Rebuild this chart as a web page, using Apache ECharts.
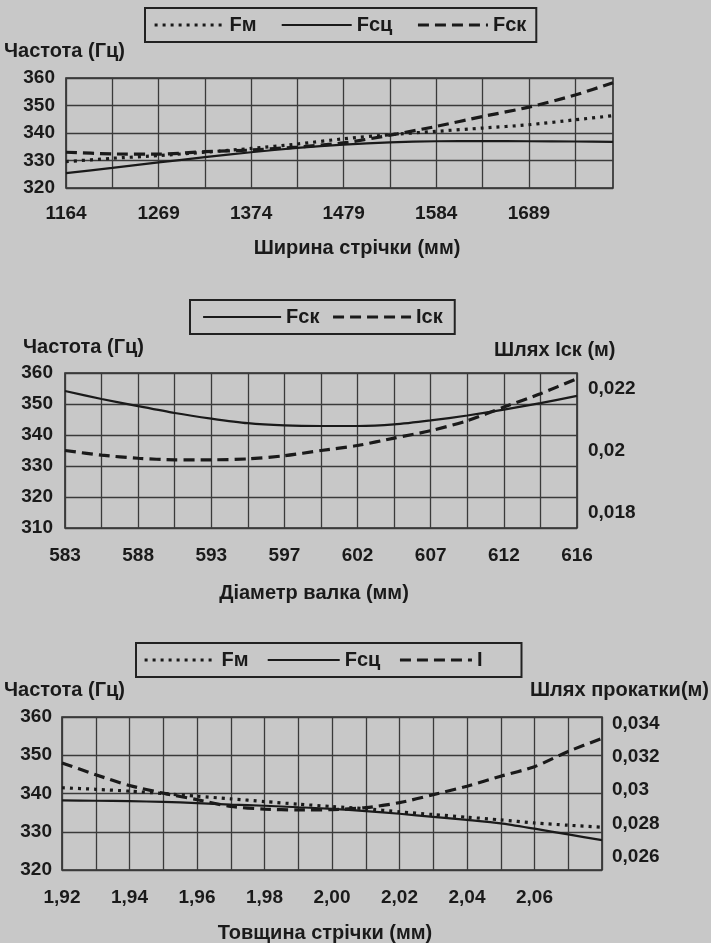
<!DOCTYPE html>
<html>
<head>
<meta charset="utf-8">
<script src="https://cdn.jsdelivr.net/npm/echarts@6/dist/echarts.min.js"></script>
<style>
html,body{margin:0;padding:0;background:#c8c8c8;}
#chart{width:711px;height:943px;}
</style>
</head>
<body>
<div id="chart"></div>
<script>
// ---------- Chart 1: Ширина стрічки ----------
const widthX = [1164, 1216.5, 1269, 1321.5, 1374, 1426.5, 1479, 1531.5, 1584, 1636.5, 1689, 1741.5, 1784.5];
const widthGrid = [1164, 1216.5, 1269, 1321.5, 1374, 1426.5, 1479, 1531.5, 1584, 1636.5, 1689, 1741.5];
const widthLabels = [1164, 1269, 1374, 1479, 1584, 1689];
const fm1  = [329.6, 330.8, 331.8, 333.0, 334.4, 336.0, 337.9, 339.4, 340.6, 341.8, 343.0, 344.8, 346.3];
const fsc1 = [325.4, 327.3, 329.3, 331.2, 333.0, 334.6, 335.8, 336.6, 337.0, 337.1, 337.0, 336.9, 336.8];
const fsk1 = [333.0, 332.4, 332.3, 333.2, 333.8, 334.9, 336.4, 339.2, 342.4, 346.0, 349.4, 353.8, 358.3];

// ---------- Chart 2: Діаметр валка ----------
const diamCats = ['583', '585.5', '588', '590.5', '593', '595', '597', '599.5', '602', '604.5', '607', '609.5', '612', '614', '616'];
const fsk2 = [354.2, 351.6, 349.3, 347.1, 345.3, 343.8, 343.1, 342.9, 342.9, 343.4, 344.7, 346.3, 348.2, 350.3, 352.6];
const isk2 = [0.0200, 0.01985, 0.01975, 0.0197, 0.0197, 0.01973, 0.01983, 0.0200, 0.02016, 0.0204, 0.02064, 0.02096, 0.0214, 0.02183, 0.02232];
const isk2Labels = [0.018, 0.02, 0.022];

// ---------- Chart 3: Товщина стрічки ----------
const thickCats = ['1,92', '1,93', '1,94', '1,95', '1,96', '1,97', '1,98', '1,99', '2,00', '2,01', '2,02', '2,03', '2,04', '2,05', '2,06', '2,07', '2,08'];
const fm3  = [341.5, 341.1, 340.6, 340.0, 339.3, 338.6, 337.9, 337.2, 336.6, 336.0, 335.2, 334.5, 333.8, 333.1, 332.3, 331.7, 331.2];
const fsc3 = [338.2, 338.1, 338.0, 337.8, 337.5, 337.1, 336.8, 336.4, 336.0, 335.4, 334.7, 333.9, 333.1, 332.2, 330.8, 329.3, 327.8];
const l3   = [0.03164, 0.03093, 0.03028, 0.02982, 0.02943, 0.02902, 0.02886, 0.02881, 0.02883, 0.02895, 0.02925, 0.02973, 0.03024, 0.03084, 0.03141, 0.03233, 0.03311];
const l3Labels = [0.026, 0.028, 0.03, 0.032, 0.034];

const INK = '#1a1a1a';
const GRIDC = '#3a3a3a';
const FONT = 'Liberation Sans';
const tickFont = {fontFamily: FONT, fontSize: 19, fontWeight: 'bold', color: INK};
const titleFont = {fontFamily: FONT, fontSize: 20, fontWeight: 'bold', fill: INK};
const DOT = {color: INK, width: 3.2, type: [3, 5]};
const SOLID = {color: INK, width: 2.2, type: 'solid'};
const DASH = {color: INK, width: 3.2, type: [11, 6]};
const comma = v => String(v).replace('.', ',');

const splitStyle = {show: true, lineStyle: {color: GRIDC, width: 1.3}};
function gridDef(l, t, w, h) {
  return {left: l, top: t, width: w, height: h, show: true, borderColor: '#2a2a2a', borderWidth: 1.6, backgroundColor: 'transparent'};
}
function leftY(gi, min, max, margin) {
  return {type: 'value', gridIndex: gi, min: min, max: max, interval: 10,
    axisLine: {show: false}, axisTick: {show: false},
    axisLabel: Object.assign({margin: margin}, tickFont), splitLine: splitStyle};
}
function legendDef(names, display, left, top, pad, itemW, gap) {
  return {data: names, left: left, top: top, orient: 'horizontal', padding: pad,
    itemWidth: itemW, itemHeight: 14, itemGap: gap, borderColor: '#222', borderWidth: 2,
    selectedMode: false,
    itemStyle: {opacity: 0},
    lineStyle: {width: 'inherit'},
    formatter: n => display[n],
    textStyle: {fontFamily: FONT, fontSize: 20, fontWeight: 'bold', color: INK}};
}
function lineSeries(name, xi, yi, data, style) {
  return {name: name, type: 'line', xAxisIndex: xi, yAxisIndex: yi, data: data,
    smooth: 0.25, symbol: 'none', lineStyle: style, itemStyle: {color: INK}, silent: true, animation: false};
}

const disp = {a1: 'Fм', b1: 'Fсц', c1: 'Fск', a2: 'Fск', b2: 'Iск', a3: 'Fм', b3: 'Fсц', c3: 'I'};

const option = {
  backgroundColor: '#c8c8c8',
  animation: false,
  textStyle: {fontFamily: FONT, color: INK},
  legend: [
    legendDef(['a1', 'b1', 'c1'], disp, 145, 8, [7, 10, 7, 8], 70, 24),
    legendDef(['a2', 'b2'], disp, 190, 300, [7, 12, 7, 12], 78, 12),
    legendDef(['a3', 'b3', 'c3'], disp, 136, 643, [7, 39, 7, 7], 72, 18)
  ],
  grid: [
    gridDef(66, 78, 547, 110),
    gridDef(65, 373, 512, 155),
    gridDef(62, 717, 540, 153)
  ],
  xAxis: [
    {type: 'value', gridIndex: 0, min: 1164, max: 1784.5,
      axisLine: {show: false},
      axisTick: {show: false, customValues: widthGrid},
      splitLine: Object.assign({customValues: widthGrid}, splitStyle),
      axisLabel: Object.assign({customValues: widthLabels, margin: 16, formatter: v => String(v)}, tickFont)},
    {type: 'category', gridIndex: 1, data: diamCats, boundaryGap: false,
      axisLine: {show: false}, axisTick: {show: false, interval: 0},
      splitLine: Object.assign({interval: 0}, splitStyle),
      axisLabel: Object.assign({interval: 1, margin: 18, formatter: v => v}, tickFont)},
    {type: 'category', gridIndex: 2, data: thickCats, boundaryGap: false,
      axisLine: {show: false}, axisTick: {show: false, interval: 0},
      splitLine: Object.assign({interval: 0}, splitStyle),
      axisLabel: Object.assign({interval: (i) => i % 2 === 0 && i < thickCats.length - 1, margin: 18}, tickFont)}
  ],
  yAxis: [
    leftY(0, 320, 360, 11),
    leftY(1, 310, 360, 12),
    {type: 'value', gridIndex: 1, position: 'right', min: 0.0175, max: 0.0225,
      axisLine: {show: false}, axisTick: {show: false}, splitLine: {show: false},
      axisLabel: Object.assign({customValues: isk2Labels, margin: 11, formatter: comma}, tickFont)},
    leftY(2, 320, 360, 10),
    {type: 'value', gridIndex: 2, position: 'right', min: 0.0252, max: 0.0344,
      axisLine: {show: false}, axisTick: {show: false}, splitLine: {show: false},
      axisLabel: Object.assign({customValues: l3Labels, margin: 10, formatter: comma}, tickFont)}
  ],
  graphic: [
    {type: 'text', left: 4, top: 41, style: Object.assign({text: 'Частота (Гц)'}, titleFont)},
    {type: 'text', x: 357, y: 248, style: Object.assign({text: 'Ширина стрічки (мм)', textAlign: 'center', textVerticalAlign: 'middle'}, titleFont)},
    {type: 'text', left: 23, top: 337, style: Object.assign({text: 'Частота (Гц)'}, titleFont)},
    {type: 'text', left: 494, top: 340, style: Object.assign({text: 'Шлях Iск (м)'}, titleFont)},
    {type: 'text', x: 314, y: 593, style: Object.assign({text: 'Діаметр валка (мм)', textAlign: 'center', textVerticalAlign: 'middle'}, titleFont)},
    {type: 'text', left: 4, top: 680, style: Object.assign({text: 'Частота (Гц)'}, titleFont)},
    {type: 'text', x: 709, y: 690, style: Object.assign({text: 'Шлях прокатки(м)', textAlign: 'right', textVerticalAlign: 'middle'}, titleFont)},
    {type: 'text', x: 325, y: 933, style: Object.assign({text: 'Товщина стрічки (мм)', textAlign: 'center', textVerticalAlign: 'middle'}, titleFont)}
  ],
  series: [
    lineSeries('a1', 0, 0, widthX.map((x, i) => [x, fm1[i]]), DOT),
    lineSeries('b1', 0, 0, widthX.map((x, i) => [x, fsc1[i]]), SOLID),
    lineSeries('c1', 0, 0, widthX.map((x, i) => [x, fsk1[i]]), DASH),
    lineSeries('a2', 1, 1, fsk2, SOLID),
    lineSeries('b2', 1, 2, isk2, DASH),
    lineSeries('a3', 2, 3, fm3, DOT),
    lineSeries('b3', 2, 3, fsc3, SOLID),
    lineSeries('c3', 2, 4, l3, DASH)
  ]
};

const chart = echarts.init(document.getElementById('chart'), null, {renderer: 'canvas'});
chart.setOption(option);
</script>
</body>
</html>
